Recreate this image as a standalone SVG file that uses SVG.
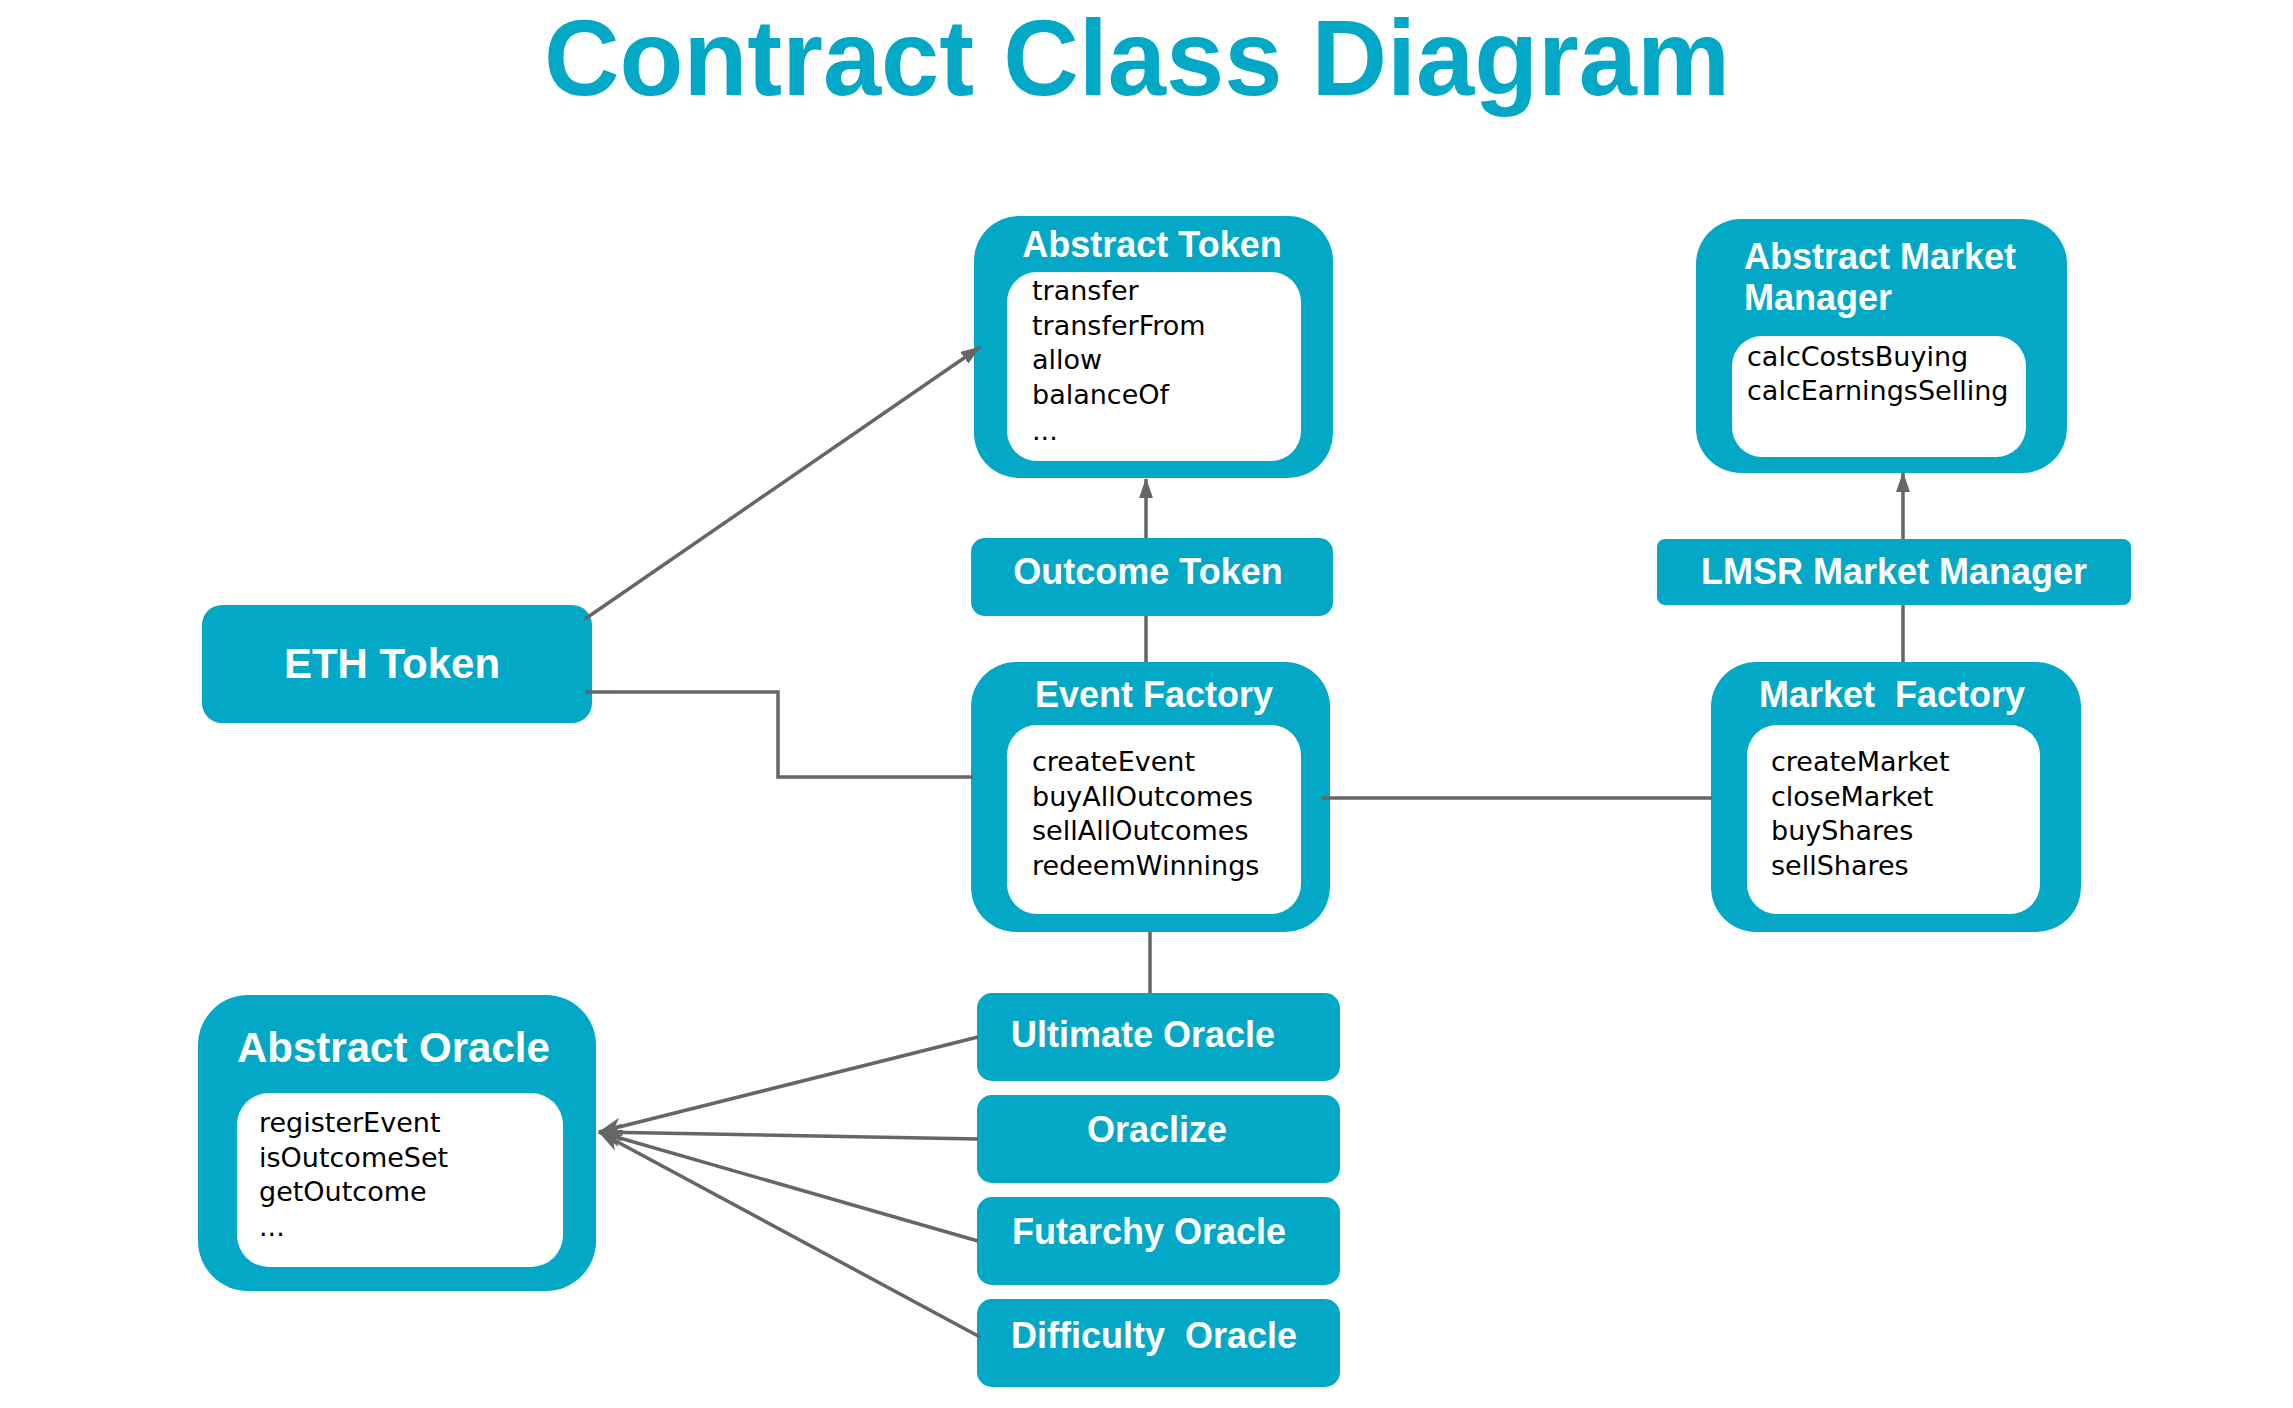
<svg xmlns="http://www.w3.org/2000/svg" width="2293" height="1408" viewBox="0 0 2293 1408">
<style>
.box{fill:#03A8C6}
.in{fill:#FFFFFF}
.ttl{font-family:"Liberation Sans",Arial,sans-serif;font-weight:bold;font-size:36px;fill:#FFFFFF}
.body{font-family:"DejaVu Sans",Verdana,sans-serif;font-size:27px;fill:#000000}
.con{fill:none;stroke:#666666;stroke-width:3.5}
</style>
<defs>
<marker id="arr" viewBox="0 0 20 14" refX="19" refY="7" markerWidth="20" markerHeight="14" orient="auto" markerUnits="userSpaceOnUse">
<path d="M0,0 L20,7 L0,14 z" fill="#666666"/>
</marker>
<marker id="stealth" viewBox="0 0 24 18" refX="23" refY="9" markerWidth="24" markerHeight="18" orient="auto" markerUnits="userSpaceOnUse">
<path d="M0,0 L24,9 L0,18 L7,9 z" fill="#666666"/>
</marker>
</defs>
<rect width="2293" height="1408" fill="#FFFFFF"/>
<text x="1137" y="95" text-anchor="middle" font-family="Liberation Sans, Arial, sans-serif" font-weight="bold" font-size="108" fill="#03A8C6" textLength="1186" lengthAdjust="spacingAndGlyphs">Contract Class Diagram</text>

<g id="abstract-token">
<rect class="box" x="974" y="216" width="359" height="262" rx="45"/>
<rect class="in" x="1007" y="272" width="294" height="189" rx="30"/>
<text class="ttl" x="1152" y="257" text-anchor="middle">Abstract Token</text>
<text class="body" x="1032" y="300">transfer</text>
<text class="body" x="1032" y="335">transferFrom</text>
<text class="body" x="1032" y="369">allow</text>
<text class="body" x="1032" y="404">balanceOf</text>
<text class="body" x="1032" y="440">...</text>
</g>

<g id="abstract-market-manager">
<rect class="box" x="1696" y="219" width="371" height="254" rx="45"/>
<rect class="in" x="1732" y="336" width="294" height="121" rx="30"/>
<text class="ttl" x="1744" y="269">Abstract Market</text>
<text class="ttl" x="1744" y="310">Manager</text>
<text class="body" x="1747" y="366">calcCostsBuying</text>
<text class="body" x="1747" y="400">calcEarningsSelling</text>
</g>

<g id="eth-token">
<rect class="box" x="202" y="605" width="390" height="118" rx="20"/>
<text class="ttl" x="392" y="678" text-anchor="middle" style="font-size:42px">ETH Token</text>
</g>

<g id="outcome-token">
<rect class="box" x="971" y="538" width="362" height="78" rx="14"/>
<text class="ttl" x="1148" y="584" text-anchor="middle">Outcome Token</text>
</g>

<g id="lmsr-market-manager">
<rect class="box" x="1657" y="539" width="474" height="66" rx="8"/>
<text class="ttl" x="1894" y="584" text-anchor="middle">LMSR Market Manager</text>
</g>

<g id="event-factory">
<rect class="box" x="971" y="662" width="359" height="270" rx="45"/>
<rect class="in" x="1007" y="725" width="294" height="189" rx="30"/>
<text class="ttl" x="1154" y="707" text-anchor="middle">Event Factory</text>
<text class="body" x="1032" y="771">createEvent</text>
<text class="body" x="1032" y="806">buyAllOutcomes</text>
<text class="body" x="1032" y="840">sellAllOutcomes</text>
<text class="body" x="1032" y="875">redeemWinnings</text>
</g>

<g id="market-factory">
<rect class="box" x="1711" y="662" width="370" height="270" rx="45"/>
<rect class="in" x="1747" y="725" width="293" height="189" rx="30"/>
<text class="ttl" x="1892" y="707" text-anchor="middle" xml:space="preserve">Market  Factory</text>
<text class="body" x="1771" y="771">createMarket</text>
<text class="body" x="1771" y="806">closeMarket</text>
<text class="body" x="1771" y="840">buyShares</text>
<text class="body" x="1771" y="875">sellShares</text>
</g>

<g id="abstract-oracle">
<rect class="box" x="198" y="995" width="398" height="296" rx="50"/>
<rect class="in" x="237" y="1093" width="326" height="174" rx="32"/>
<text class="ttl" x="237" y="1062" style="font-size:42px">Abstract Oracle</text>
<text class="body" x="259" y="1132">registerEvent</text>
<text class="body" x="259" y="1167">isOutcomeSet</text>
<text class="body" x="259" y="1201">getOutcome</text>
<text class="body" x="259" y="1236">...</text>
</g>

<g id="ultimate-oracle">
<rect class="box" x="977" y="993" width="363" height="88" rx="15"/>
<text class="ttl" x="1011" y="1047">Ultimate Oracle</text>
</g>

<g id="oraclize">
<rect class="box" x="977" y="1095" width="363" height="88" rx="15"/>
<text class="ttl" x="1157" y="1142" text-anchor="middle">Oraclize</text>
</g>

<g id="futarchy-oracle">
<rect class="box" x="977" y="1197" width="363" height="88" rx="15"/>
<text class="ttl" x="1012" y="1244">Futarchy Oracle</text>
</g>

<g id="difficulty-oracle">
<rect class="box" x="977" y="1299" width="363" height="88" rx="15"/>
<text class="ttl" x="1011" y="1348" xml:space="preserve">Difficulty  Oracle</text>
</g>

<g id="connectors">
<path class="con" d="M585,619 L980,347" marker-end="url(#arr)"/>
<path class="con" d="M585,692 H778 V777 H973"/>
<path class="con" d="M1146,538 V479" marker-end="url(#arr)"/>
<path class="con" d="M1146,616 V662"/>
<path class="con" d="M1322,798 H1712"/>
<path class="con" d="M1903,539 V473" marker-end="url(#arr)"/>
<path class="con" d="M1903,605 V662"/>
<path class="con" d="M1150,932 V993"/>
<path class="con" d="M978,1037 L599,1132" marker-end="url(#stealth)"/>
<path class="con" d="M978,1139 L599,1132" marker-end="url(#stealth)"/>
<path class="con" d="M978,1241 L599,1132" marker-end="url(#stealth)"/>
<path class="con" d="M980,1337 L599,1132" marker-end="url(#stealth)"/>
</g>
</svg>
